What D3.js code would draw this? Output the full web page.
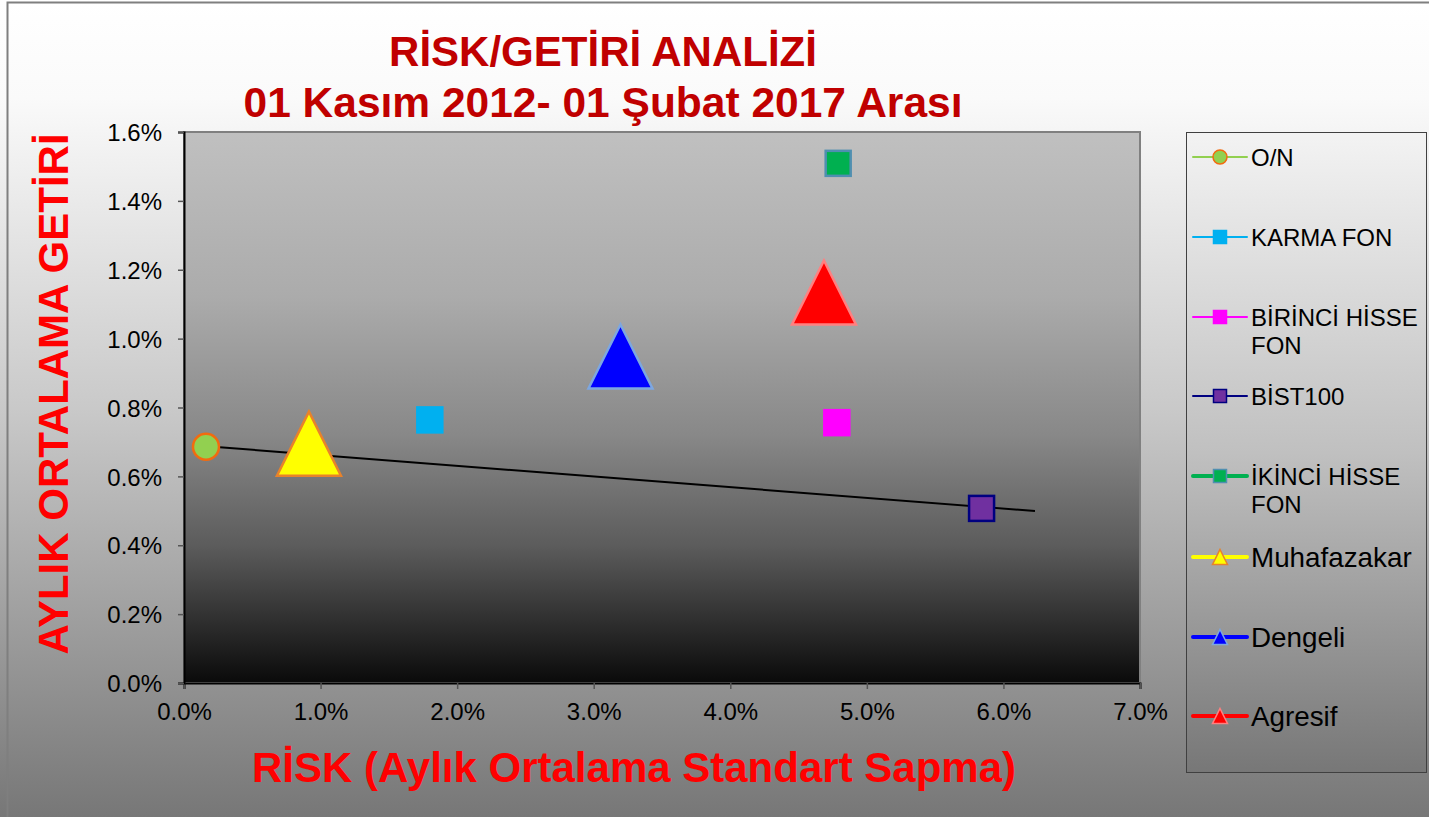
<!DOCTYPE html>
<html>
<head>
<meta charset="utf-8">
<script src="https://cdn.jsdelivr.net/npm/d3@7"></script>
<style>
  body { margin: 0; background: #fff; }
  text { font-family: "Liberation Sans", Arial, sans-serif; }
</style>
</head>
<body>
<svg id="chart" width="1429" height="817"></svg>
<script>
// data (risk %, return %)
const names = ['O/N', 'KARMA FON', 'BİRİNCİ HİSSE FON', 'BİST100', 'İKİNCİ HİSSE FON', 'Muhafazakar', 'Dengeli', 'Agresif'];
const risk = [0.161, 1.80, 4.78, 5.84, 4.79, 0.915, 3.196, 4.686];
const getiri = [0.686, 0.764, 0.756, 0.507, 1.509, 0.695, 0.948, 1.134];
const trendX = [0.117, 6.231];
const trendY = [0.689, 0.4995];
const xTicks = [0, 1, 2, 3, 4, 5, 6, 7];
const yTicks = [0, 0.2, 0.4, 0.6, 0.8, 1.0, 1.2, 1.4, 1.6];

// styles for each series
const styles = [
  {shape: 'circle',   fill: '#92d050', stroke: '#f26b0f', line: '#92d050', lw: 2, wrap: null, fs: 24},
  {shape: 'square',   fill: '#00b0f0', stroke: '#00b0f0', line: '#00b0f0', lw: 2, wrap: null, fs: 24},
  {shape: 'square',   fill: '#ff00ff', stroke: '#ff00ff', line: '#ff00ff', lw: 2, wrap: ['BİRİNCİ HİSSE', 'FON'], fs: 24},
  {shape: 'square',   fill: '#7030a0', stroke: '#000080', line: '#000080', lw: 2, wrap: null, fs: 24},
  {shape: 'square',   fill: '#00b050', stroke: '#4f8fb0', line: '#00b050', lw: 4, wrap: ['İKİNCİ HİSSE', 'FON'], fs: 24},
  {shape: 'triangle', fill: '#ffff00', stroke: '#e8822a', line: '#ffff00', lw: 4, wrap: null, fs: 27.8},
  {shape: 'triangle', fill: '#0000ff', stroke: '#7da7e0', line: '#0000ff', lw: 4, wrap: null, fs: 27.8},
  {shape: 'triangle', fill: '#ff0000', stroke: '#ff8080', line: '#ff0000', lw: 4, wrap: null, fs: 27.8}
];

const svg = d3.select('#chart');
const W = 1429, H = 817;
const margin = {top: 132, left: 184, right: 289, bottom: 134};
const pw = W - margin.left - margin.right;   // 956
const ph = H - margin.top - margin.bottom;   // 551

const defs = svg.append('defs');
function vGrad(id, stops) {
  const g = defs.append('linearGradient').attr('id', id)
    .attr('x1', 0).attr('y1', 0).attr('x2', 0).attr('y2', 1);
  stops.forEach(s => g.append('stop').attr('offset', s[0]).attr('stop-color', s[1]));
}
vGrad('bgGrad', [[0, '#ffffff'], [0.12, '#fafafa'], [0.5, '#c9c9c9'], [1, '#777777']]);
vGrad('plotGrad', [[0, '#c0c0c0'], [0.3, '#ababab'], [0.55, '#888888'], [0.75, '#5c5c5c'], [1, '#0a0a0a']]);
vGrad('legGrad', [[0, '#f3f3f3'], [0.5, '#c0c0c0'], [1, '#777777']]);

// chart background
svg.append('rect').attr('x', 0).attr('y', 0).attr('width', W).attr('height', H)
  .attr('fill', 'url(#bgGrad)');
svg.append('rect').attr('x', 7.5).attr('y', 2.5).attr('width', W + 10).attr('height', H + 10)
  .attr('fill', 'none').attr('stroke', '#7f7f7f').attr('stroke-width', 2);

// titles
const red = '#c00000';
svg.append('text').attr('x', 603).attr('y', 66).attr('text-anchor', 'middle')
  .attr('fill', red).attr('font-weight', 'bold').attr('font-size', 42)
  .text('RİSK/GETİRİ ANALİZİ');
svg.append('text').attr('x', 603).attr('y', 117).attr('text-anchor', 'middle')
  .attr('fill', red).attr('font-weight', 'bold').attr('font-size', 42.5)
  .text('01 Kasım 2012- 01 Şubat 2017 Arası');
svg.append('text').attr('transform', 'translate(68,394) rotate(-90)').attr('text-anchor', 'middle')
  .attr('fill', '#ff0000').attr('font-weight', 'bold').attr('font-size', 42)
  .text('AYLIK ORTALAMA GETİRİ');
svg.append('text').attr('x', 634).attr('y', 782).attr('text-anchor', 'middle')
  .attr('fill', '#ff0000').attr('font-weight', 'bold').attr('font-size', 42)
  .text('RİSK (Aylık Ortalama Standart Sapma)');

// scales
const x = d3.scaleLinear().domain([0, 7]).range([0, pw]);
const y = d3.scaleLinear().domain([0, 1.6]).range([ph, 0]);

const g = svg.append('g').attr('transform', `translate(${margin.left},${margin.top})`);

g.append('rect').attr('width', pw).attr('height', ph).attr('fill', 'url(#plotGrad)')
  .attr('stroke', '#808080').attr('stroke-width', 2);

// axes
const pct = d => d.toFixed(1) + '%';
const xAxis = g.append('g').attr('transform', `translate(0,${ph})`)
  .call(d3.axisBottom(x).tickValues(xTicks).tickFormat(pct).tickSizeOuter(0).tickSize(6).tickPadding(14));
const yAxis = g.append('g')
  .call(d3.axisLeft(y).tickValues(yTicks).tickFormat(pct).tickSizeOuter(0).tickSize(6).tickPadding(16));
[xAxis, yAxis].forEach(a => {
  a.attr('font-size', null).attr('font-family', null);
  a.select('.domain').attr('stroke', '#000').attr('stroke-width', 2);
  a.selectAll('.tick line').attr('stroke', '#555').attr('stroke-width', 1.5);
  a.selectAll('.tick text').attr('fill', '#000')
    .style('font-size', '24px')
    .style('font-family', '"Liberation Sans", Arial, sans-serif');
});
yAxis.selectAll('.tick text').attr('dy', '0.36em');
xAxis.selectAll('.tick text').attr('dy', '0.71em');

// trend line
g.append('line')
  .attr('x1', x(trendX[0])).attr('y1', y(trendY[0]))
  .attr('x2', x(trendX[1])).attr('y2', y(trendY[1]))
  .attr('stroke', '#000').attr('stroke-width', 2);

// marker drawing helper
function marker(sel, shape, size, fill, stroke, sw) {
  const h = size / 2;
  if (shape === 'circle') {
    sel.append('circle').attr('r', h).attr('fill', fill).attr('stroke', stroke).attr('stroke-width', sw);
  } else if (shape === 'square') {
    sel.append('rect').attr('x', -h).attr('y', -h).attr('width', size).attr('height', size)
      .attr('fill', fill).attr('stroke', stroke).attr('stroke-width', sw);
  } else {
    sel.append('path').attr('d', `M0,${-h}L${h},${h}L${-h},${h}Z`)
      .attr('fill', fill).attr('stroke', stroke).attr('stroke-width', sw).attr('stroke-linejoin', 'miter');
  }
}

const sizes = {circle: 26, square: 25, triangle: 64};
names.forEach((n, i) => {
  const s = styles[i];
  const m = g.append('g').attr('transform', `translate(${x(risk[i])},${y(getiri[i])})`);
  marker(m, s.shape, sizes[s.shape], s.fill, s.stroke, 2.5);
});

// legend
const leg = svg.append('g');
leg.append('rect').attr('x', 1186.5).attr('y', 132.5).attr('width', 240).attr('height', 640)
  .attr('fill', 'url(#legGrad)').attr('stroke', '#404040').attr('stroke-width', 1);
const legY = [157, 237, 317, 396, 476, 557, 637, 716];
const legSizes = {circle: 14, square: 13, triangle: 15};
names.forEach((n, i) => {
  const s = styles[i];
  const row = leg.append('g').attr('transform', `translate(0,${legY[i]})`);
  row.append('line').attr('x1', 1193).attr('x2', 1247).attr('y1', 0).attr('y2', 0)
    .attr('stroke', s.line).attr('stroke-width', s.lw).attr('stroke-linecap', 'round');
  const m = row.append('g').attr('transform', 'translate(1220,0)');
  marker(m, s.shape, legSizes[s.shape], s.fill, s.stroke, 1.5);
  const lines = s.wrap || [n];
  const t = row.append('text').attr('x', 1251).attr('y', 0).attr('fill', '#000')
    .attr('font-size', s.fs);
  lines.forEach((l, k) => {
    t.append('tspan').attr('x', 1251).attr('dy', k === 0 ? '0.36em' : 28).text(l);
  });
});
</script>
</body>
</html>
